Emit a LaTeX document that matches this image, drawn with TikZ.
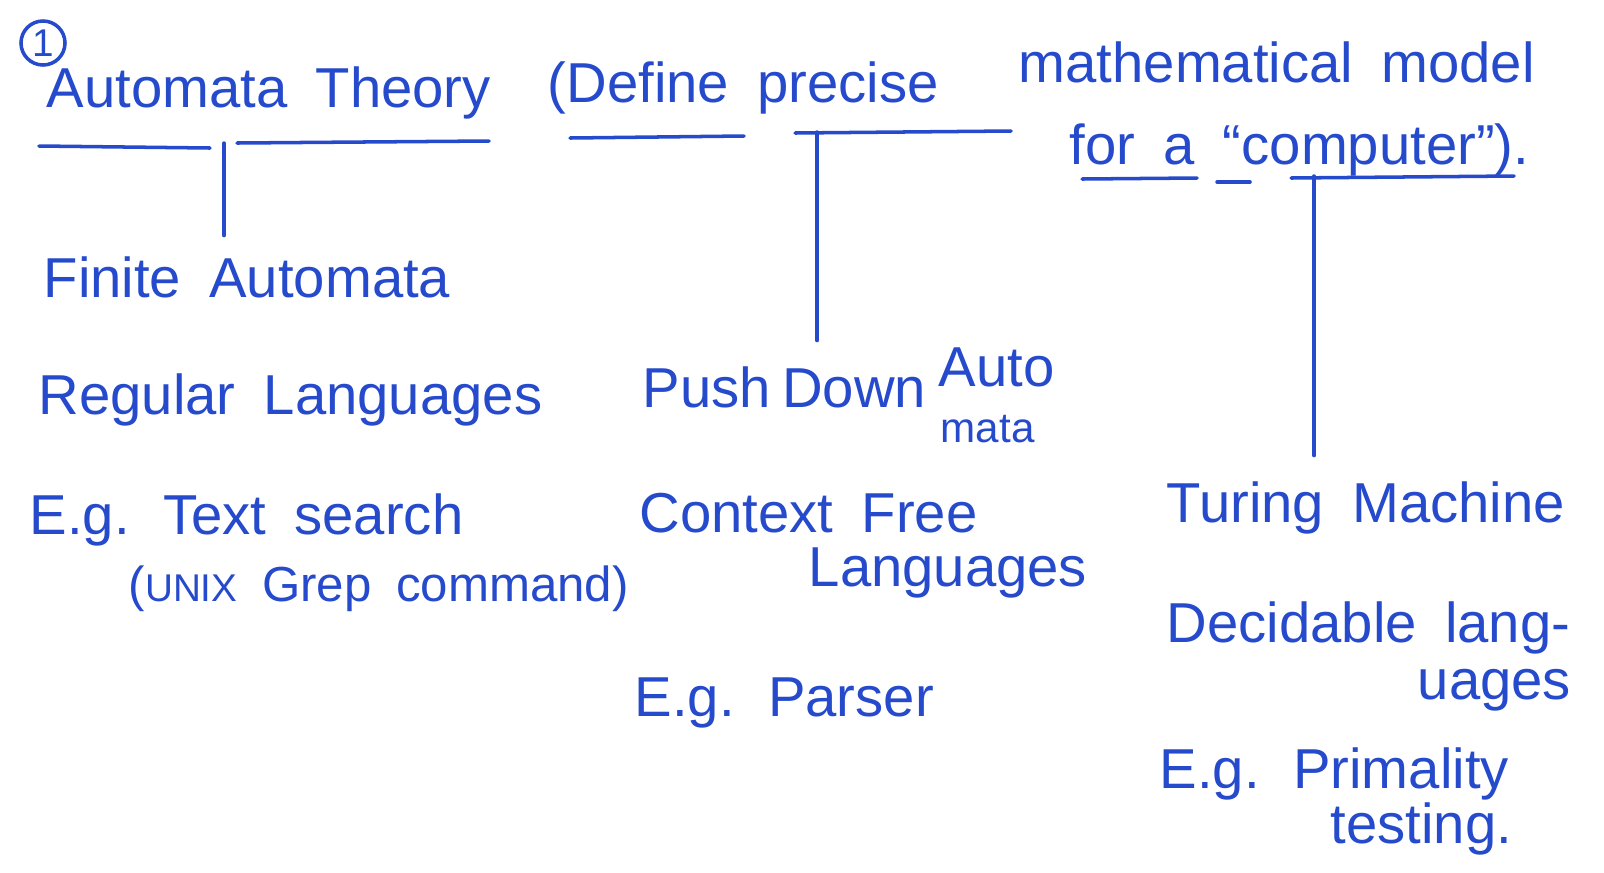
\documentclass[tikz,border=0pt]{standalone}
\usepackage{fontspec}
\setmainfont{Liberation Sans}[WordSpace=1.8]
\usepackage{tikz}
\usetikzlibrary{positioning}
\definecolor{inkblue}{RGB}{38,74,204}

\tikzset{
  note/.style={anchor=base west, inner sep=0pt, text=inkblue,
               font=\fontsize{16}{19}\selectfont},
  smallnote/.style={note, font=\fontsize{12}{14}\selectfont},
  pen/.style={draw=inkblue, line width=1pt, line cap=round}
}

\begin{document}
\begin{tikzpicture}[x=0.01cm, y=-0.01cm]
    \useasboundingbox (0,0) rectangle (1604,872);

    % heading
    \node[pen, circle, minimum size=0.44cm, inner sep=0pt, text=inkblue,
          font=\fontsize{11}{12}\selectfont] (num) at (43,43) {1};
    \node[note] (title) at (46,107) {Automata Theory};
    \node[note] (defn) at (547,102) {(Define precise};
    \node[note] (model) at (1018,82) {mathematical model};
    \node[note] (forcomp) at (1069,164) {for a “computer”).};

    % underlines
    \draw[pen] (39,146) -- (210,148);
    \draw[pen] (237,143) -- (489,141);
    \draw[pen] (570,138) -- (744,136);
    \draw[pen] (795,133) -- (1011,131);
    \draw[pen] (1082,179) -- (1197,178);
    \draw[pen] (1217,182) -- (1250,182);
    \draw[pen] (1291,178) -- (1514,176);

    \coordinate (fork1) at (224,143);
    \coordinate (fork2) at (817,132);
    \coordinate (fork3) at (1314,176);

    % finite automata
    \node[note] (fa) at (43,297) {Finite Automata};
    \node[note] (rl) at (38,414) {Regular Languages};
    \node[note] (egfa) at (29,534) {E.g. Text search};
    \node[note, font=\fontsize{14}{16}\selectfont] (unix) at (128,601)
        {({\fontsize{11}{13}\selectfont UNIX} Grep command)};

    % push down automata
    \node[note] (pda) at (642,407) {Push\hspace{0.2em}Down};
    \node[note, text depth=0pt] (pdaauto) at (938,386) {Auto};
    \node[smallnote, text height=1.4ex, text depth=0pt] (pdamata) at (940,442) {mata};
    \node[note] (cfl) at (639,532) {Context Free};
    \node[note] (cfllang) at (808,586) {Languages};
    \node[note] (egpda) at (634,716) {E.g. Parser};

    % turing machine
    \node[note] (tm) at (1166,522) {Turing Machine};
    \node[note] (dl) at (1166,642) {Decidable lang-};
    \node[note] (dlcont) at (1417,699) {uages};
    \node[note] (egtm) at (1159,788) {E.g. Primality};
    \node[note] (egtmcont) at (1330,843) {testing.};

    % branches
    \draw[pen, shorten >=0.2cm] (fork1) -- (fork1 |- fa.north);
    \draw[pen, shorten >=0.25cm] (fork2) -- (fork2 |- pda.north);
    \draw[pen, shorten >=0.25cm] (fork3) -- (fork3 |- tm.north);
\end{tikzpicture}
\end{document}
